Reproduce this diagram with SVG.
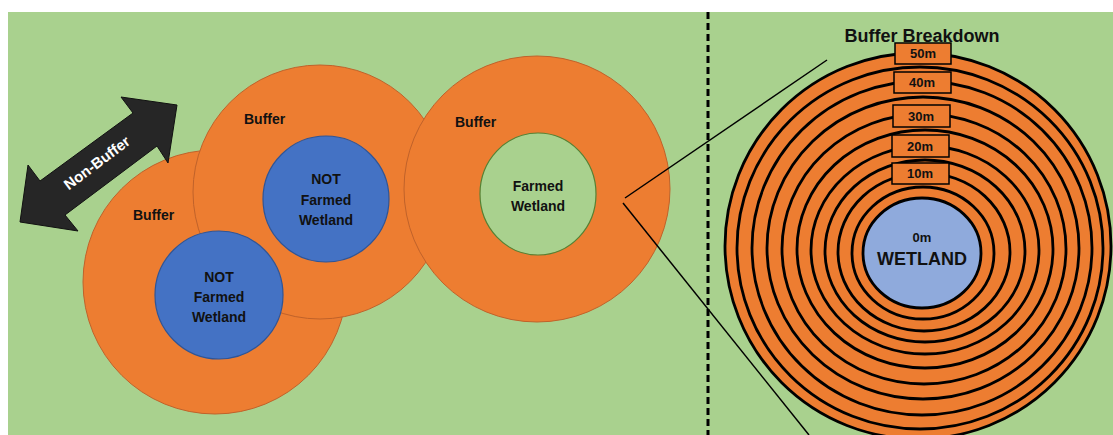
<svg xmlns="http://www.w3.org/2000/svg" width="1113" height="435" viewBox="0 0 1113 435">
<style>
text{font-family:"Liberation Sans",Arial,sans-serif;font-weight:bold;fill:#111}
.buf{fill:#ED7D31;stroke:#C0622A;stroke-width:1}
.blue{fill:#4472C4;stroke:#2F5597;stroke-width:1.2}
.lbl{font-size:14px}
.ctr{text-anchor:middle}
.ring{fill:#ED7D31;stroke:#000;stroke-width:2.8}
.box{fill:#ED7D31;stroke:#000;stroke-width:1.5}
.dist{font-size:13px;text-anchor:middle}
.conn{stroke:#000;stroke-width:1.5;fill:none}
</style>
<rect x="0" y="0" width="1113" height="435" fill="#fff"/>
<rect x="8" y="12" width="1105" height="423" fill="#A9D18E"/>

<g id="buffer-bottom-left">
<circle class="buf" cx="215" cy="282" r="132"/>
</g>
<g id="buffer-middle">
<circle class="buf" cx="320" cy="192" r="127"/>
</g>
<g id="wetland-bottom-left">
<circle class="blue" cx="219" cy="295" r="64"/>
<text class="lbl ctr" x="219" y="282">NOT</text>
<text class="lbl ctr" x="219" y="302">Farmed</text>
<text class="lbl ctr" x="219" y="322">Wetland</text>
</g>
<g id="wetland-middle">
<circle class="blue" cx="326" cy="199" r="63"/>
<text class="lbl ctr" x="326" y="184">NOT</text>
<text class="lbl ctr" x="326" y="205">Farmed</text>
<text class="lbl ctr" x="326" y="225">Wetland</text>
</g>
<g id="buffer-right">
<circle class="buf" cx="537" cy="189" r="133"/>
<ellipse cx="538" cy="194" rx="58" ry="61" fill="#A9D18E" stroke="#548235" stroke-width="1.2"/>
<text class="lbl ctr" x="538" y="191">Farmed</text>
<text class="lbl ctr" x="538" y="211">Wetland</text>
</g>
<g id="buffer-labels">
<text class="lbl" x="244" y="124">Buffer</text>
<text class="lbl" x="133" y="220">Buffer</text>
<text class="lbl" x="455" y="127">Buffer</text>
</g>

<g id="non-buffer-arrow">
<polygon points="177,105 121,97 133,113 40,181 28,165 20,222 78,231 65,215 157,146 168,163" fill="#262626" stroke="#111" stroke-width="1"/>
<text x="97" y="168" font-size="15" class="ctr" style="fill:#fff" transform="rotate(-37 97 163)">Non-Buffer</text>
</g>

<g id="divider">
<line x1="708" y1="12" x2="708" y2="435" stroke="#000" stroke-width="3" stroke-dasharray="7 4"/>
</g>

<g id="connectors">
<line class="conn" x1="625" y1="198" x2="827" y2="60"/>
<line class="conn" x1="623" y1="203" x2="809" y2="435"/>
</g>

<g id="buffer-breakdown">
<text x="922" y="42" font-size="18" class="ctr">Buffer Breakdown</text>
<ellipse class="ring" cx="918" cy="246" rx="193" ry="193"/>
<ellipse class="ring" cx="920" cy="248" rx="183" ry="181"/>
<ellipse class="ring" cx="922" cy="248" rx="170" ry="167"/>
<ellipse class="ring" cx="923" cy="248" rx="156" ry="151"/>
<ellipse class="ring" cx="924" cy="249" rx="142" ry="135"/>
<ellipse class="ring" cx="925" cy="249" rx="128" ry="119"/>
<ellipse class="ring" cx="925" cy="250" rx="114" ry="104"/>
<ellipse class="ring" cx="925" cy="251" rx="100" ry="91"/>
<ellipse class="ring" cx="924" cy="252" rx="86" ry="79"/>
<ellipse class="ring" cx="923" cy="253" rx="71" ry="66"/>
</g>
<g id="wetland-core">
<ellipse cx="922" cy="253" rx="59" ry="55" fill="#8FAADC" stroke="#000" stroke-width="2.8"/>
<text x="922" y="242" font-size="13" class="ctr">0m</text>
<text x="922" y="265" font-size="18" class="ctr">WETLAND</text>
</g>
<g id="label-50m"><rect class="box" x="895" y="43" width="56" height="21"/><text class="dist" x="923" y="58">50m</text></g>
<g id="label-40m"><rect class="box" x="894" y="72" width="57" height="21"/><text class="dist" x="922" y="87">40m</text></g>
<g id="label-30m"><rect class="box" x="893" y="105" width="57" height="22"/><text class="dist" x="921" y="121">30m</text></g>
<g id="label-20m"><rect class="box" x="892" y="135" width="57" height="22"/><text class="dist" x="920" y="151">20m</text></g>
<g id="label-10m"><rect class="box" x="892" y="163" width="57" height="21"/><text class="dist" x="920" y="178">10m</text></g>
</svg>
